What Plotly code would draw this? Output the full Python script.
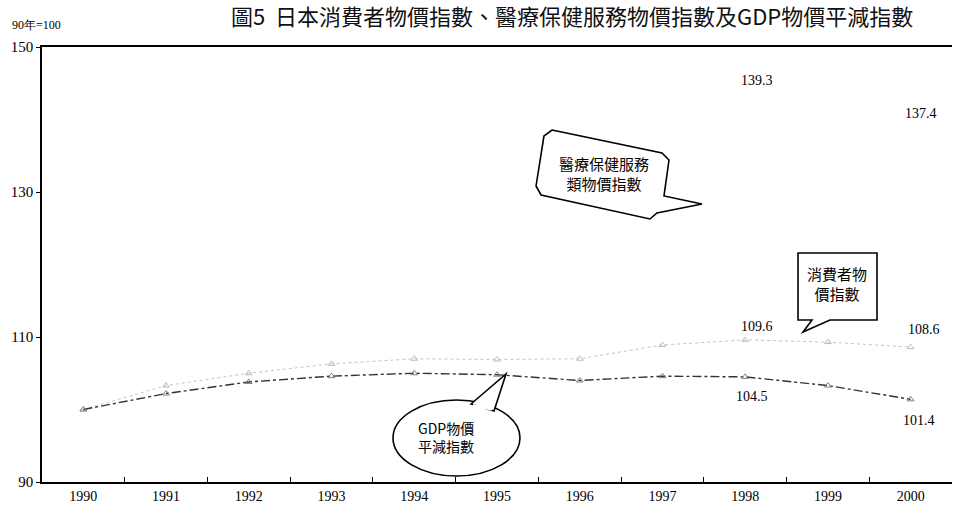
import plotly.graph_objects as go

# ---- data ----
years = [1990, 1991, 1992, 1993, 1994, 1995, 1996, 1997, 1998, 1999, 2000]
cpi = [100.0, 103.3, 105.0, 106.3, 107.0, 106.9, 107.0, 108.9, 109.6, 109.3, 108.6]
gdp_deflator = [100.0, 102.2, 103.8, 104.6, 105.0, 104.8, 104.0, 104.6, 104.5, 103.3, 101.4]
medical_years = [1998, 2000]
medical_vals = [139.3, 137.4]
y_ticks = [90, 110, 130, 150]

title_text = "圖5  日本消費者物價指數、醫療保健服務物價指數及GDP物價平減指數"
unit_text = "90年=100"

# ---- layout geometry (pixels) ----
W, H = 953, 515
L, R, T, B = 42, 1, 47, 33
PW, PH = W - L - R, H - T - B


def px(x):
    return (x - L) / PW


def py(y):
    return (H - B - y) / PH


def path(points, close=True):
    s = "M " + " L ".join(f"{px(x):.4f},{py(y):.4f}" for x, y in points)
    return s + (" Z" if close else "")


fig = go.Figure()

fig.add_trace(go.Scatter(
    x=years, y=cpi, mode="lines+markers", name="消費者物價指數",
    line=dict(color="#c4c4c4", width=1, dash="dot"),
    marker=dict(symbol="triangle-up-open", size=6, color="#bdbdbd"),
))
fig.add_trace(go.Scatter(
    x=years, y=gdp_deflator, mode="lines+markers", name="GDP物價平減指數",
    line=dict(color="#333333", width=1.4, dash="dashdot"),
    marker=dict(symbol="triangle-up-open", size=6, color="#808080"),
))

serif = "Liberation Serif, Times New Roman, serif"
cjk = "Noto Sans CJK TC"

anns = []
# value labels
label_specs = [
    (medical_years[0], medical_vals[0], 12, 44),
    (medical_years[1], medical_vals[1], 10, 25),
    (years[8], cpi[8], 12, 13),
    (years[10], cpi[10], 13, 18),
    (years[8], gdp_deflator[8], 7, -20),
    (years[10], gdp_deflator[10], 8, -21),
]
for x, y, xs, ys in label_specs:
    anns.append(dict(x=x, y=y, xref="x", yref="y", text=f"{y:.1f}", showarrow=False,
                     xanchor="center", yanchor="middle",
                     xshift=xs, yshift=ys, font=dict(family=serif, size=14, color="black")))

# callout texts
for cx, cy, txt, fs in [(604, 173, "醫療保健服務<br>類物價指數", 15),
                        (837, 283, "消費者物<br>價指數", 15),
                        (446, 437, "GDP物價<br>平減指數", 14)]:
    anns.append(dict(x=px(cx), y=py(cy), xref="paper", yref="paper", showarrow=False,
                     xanchor="center", yanchor="middle", text=txt, align="center",
                     font=dict(family=cjk, size=fs, color="black")))
# unit text
anns.append(dict(x=px(36), y=py(25), xref="paper", yref="paper", showarrow=False,
                 xanchor="center", yanchor="middle",
                 text=unit_text, font=dict(family=serif, size=12, color="black")))
# title
anns.append(dict(x=px(572), y=py(15), xref="paper", yref="paper", showarrow=False,
                 xanchor="center", yanchor="middle", text=title_text,
                 font=dict(family=cjk, size=22, color="#111111")))

shapes = []
# medical callout bubble
shapes.append(dict(type="path", xref="paper", yref="paper",
                   path=path([(552, 130), (662, 153), (669, 160), (664, 196), (702, 204),
                              (657, 213), (650, 219), (541, 195), (536, 186), (544, 136)]),
                   line=dict(color="black", width=1.6), fillcolor="rgba(255,255,255,0)"))
# CPI callout box
shapes.append(dict(type="path", xref="paper", yref="paper",
                   path=path([(798, 253), (877, 253), (877, 320), (830, 320), (803, 332),
                              (812, 320), (798, 320)]),
                   line=dict(color="black", width=1.6), fillcolor="rgba(255,255,255,0)"))
# GDP ellipse callout
shapes.append(dict(type="circle", xref="paper", yref="paper",
                   x0=px(393), x1=px(520), y0=py(476), y1=py(400),
                   line=dict(color="black", width=1.6), fillcolor="white"))
shapes.append(dict(type="path", xref="paper", yref="paper",
                   path=path([(471, 404), (506, 374), (494, 411)]),
                   line=dict(color="black", width=1.6), fillcolor="white"))
shapes.append(dict(type="line", xref="paper", yref="paper",
                   x0=px(473), y0=py(405.5), x1=px(492), y1=py(409),
                   line=dict(color="white", width=3)))

fig.update_layout(
    width=W, height=H,
    margin=dict(l=L, r=R, t=T, b=B),
    paper_bgcolor="white", plot_bgcolor="white",
    showlegend=False,
    xaxis=dict(
        range=[1989.5, 2000.5], tickmode="array", tickvals=years,
        ticktext=[str(y) for y in years], ticks="",
        showgrid=False, zeroline=False, showline=True, mirror=True,
        linecolor="black", linewidth=1.5,
        tickfont=dict(family=serif, size=14, color="black"),
        minor=dict(tickmode="array", tickvals=[y + 0.5 for y in years[:-1]],
                   ticks="inside", ticklen=5, tickcolor="black", showgrid=False),
    ),
    yaxis=dict(
        range=[90, 150], tickmode="array", tickvals=y_ticks,
        ticks="outside", ticklen=4, tickcolor="black",
        showgrid=False, zeroline=False, showline=True, linecolor="black", linewidth=1.5,
        tickfont=dict(family=serif, size=15, color="black"),
    ),
    annotations=anns,
    shapes=shapes,
)

fig.write_html("out.html", config={"displayModeBar": False},
               post_script="document.body.style.margin='0px';document.body.style.overflow='hidden';")
